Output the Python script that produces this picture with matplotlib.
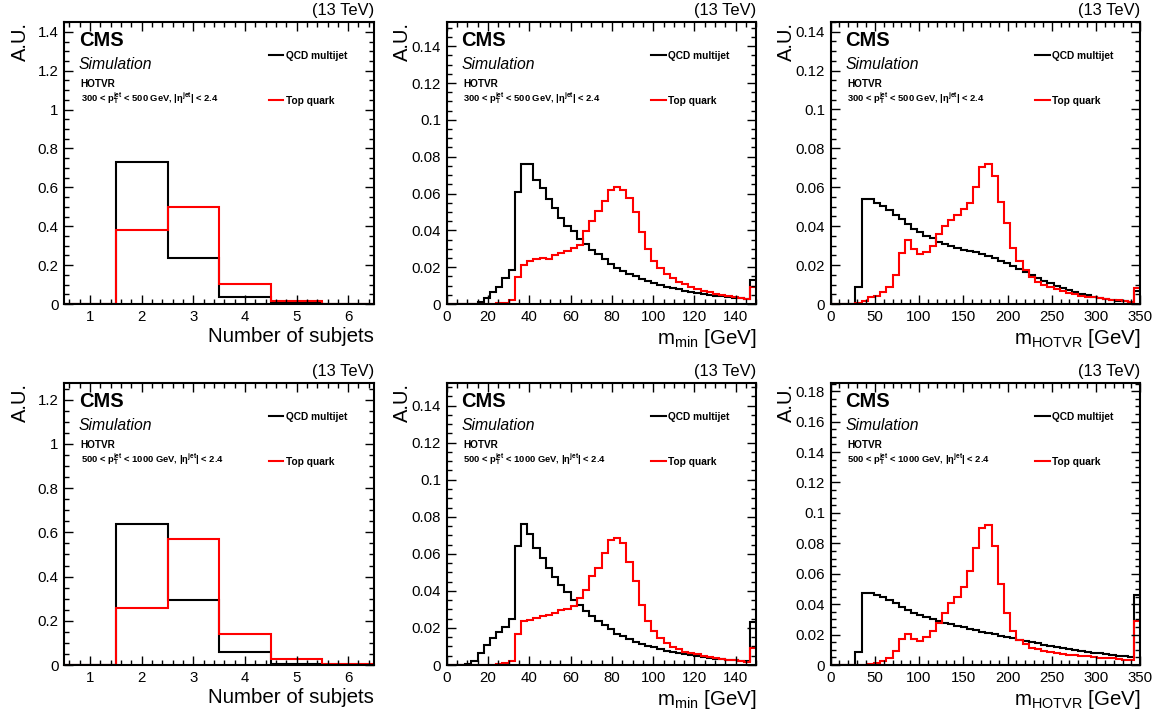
import numpy as np
import matplotlib
matplotlib.use('Agg')
import matplotlib.pyplot as plt
from matplotlib.lines import Line2D
from matplotlib.ticker import MultipleLocator, FuncFormatter

plt.rcParams['font.family'] = ['Liberation Sans', 'DejaVu Sans']
plt.rcParams['mathtext.fontset'] = 'custom'
plt.rcParams['mathtext.rm'] = 'Liberation Sans'
plt.rcParams['mathtext.it'] = 'Liberation Sans:italic'
plt.rcParams['mathtext.bf'] = 'Liberation Sans:bold'

# ---- data (normalised histograms) ----
nsub_edges = np.arange(0.5, 7.0, 1.0)
mmin_edges = np.linspace(0, 150, 51)      # 3 GeV bins, last bin incl. overflow
mhotvr_edges = np.linspace(0, 350, 51)    # 7 GeV bins, last bin incl. overflow

# 300 < pT < 500 GeV
nsub_qcd_300 = [0.0, 0.73, 0.235, 0.035, 0.003, 0.0]
nsub_top_300 = [0.0, 0.38, 0.50, 0.105, 0.015, 0.002]

mmin_qcd_300 = [0, 0, 0, 0, 0, 0.001, 0.003, 0.0065, 0.0095, 0.014,
                0.0185, 0.061, 0.076, 0.076, 0.0675, 0.063, 0.057, 0.052, 0.0465, 0.0425,
                0.0395, 0.0355, 0.0325, 0.0295, 0.027, 0.0245, 0.022, 0.0195, 0.0178, 0.0163,
                0.015, 0.0137, 0.0125, 0.0115, 0.0105, 0.0095, 0.0087, 0.008, 0.0073, 0.0067,
                0.006, 0.0055, 0.005, 0.0046, 0.0042, 0.0038, 0.0034, 0.003, 0.0027, 0.013]
mmin_top_300 = [0, 0, 0, 0, 0, 0, 0, 0, 0.0003, 0.0008,
                0.002, 0.0145, 0.021, 0.0235, 0.0245, 0.025, 0.0245, 0.0265, 0.0275, 0.029,
                0.0305, 0.032, 0.0395, 0.045, 0.0505, 0.056, 0.062, 0.0635, 0.062, 0.0575,
                0.050, 0.039, 0.030, 0.0235, 0.0195, 0.0163, 0.014, 0.0122, 0.0108, 0.0095,
                0.0083, 0.0073, 0.0064, 0.0056, 0.0049, 0.0043, 0.0038, 0.0032, 0.0026, 0.0095]

mhotvr_qcd_300 = [0, 0, 0, 0, 0.009, 0.0538, 0.0538, 0.052, 0.0504, 0.0485,
                  0.046, 0.0438, 0.041, 0.0388, 0.037, 0.035, 0.0337, 0.0321, 0.0308, 0.0297,
                  0.0287, 0.028, 0.0273, 0.0265, 0.0256, 0.0248, 0.0236, 0.0222, 0.0209, 0.0195,
                  0.0181, 0.0164, 0.0149, 0.0133, 0.012, 0.0106, 0.0092, 0.0082, 0.0072, 0.0062,
                  0.0053, 0.0044, 0.0038, 0.0031, 0.0026, 0.0021, 0.0017, 0.0014, 0.001, 0.0065]
mhotvr_top_300 = [0, 0, 0, 0, 0.0005, 0.0015, 0.0034, 0.0043, 0.006, 0.0085,
                  0.0147, 0.026, 0.033, 0.0285, 0.0256, 0.0265, 0.030, 0.036, 0.040, 0.0434,
                  0.0455, 0.0487, 0.052, 0.060, 0.0704, 0.0721, 0.066, 0.0526, 0.0414, 0.029,
                  0.0219, 0.0174, 0.014, 0.0113, 0.0099, 0.0085, 0.0075, 0.0065, 0.0058, 0.005,
                  0.0043, 0.0038, 0.0034, 0.0029, 0.0026, 0.0022, 0.0019, 0.0017, 0.0012, 0.008]

# 500 < pT < 1000 GeV
nsub_qcd_500 = [0.0, 0.64, 0.295, 0.058, 0.006, 0.001]
nsub_top_500 = [0.0, 0.257, 0.57, 0.142, 0.027, 0.004]

mmin_qcd_500 = [0, 0, 0, 0.0003, 0.002, 0.0066, 0.0106, 0.0148, 0.018, 0.0207,
                0.0247, 0.0645, 0.0759, 0.0705, 0.0632, 0.0578, 0.0524, 0.0477, 0.0434, 0.0392,
                0.035, 0.0322, 0.0289, 0.0266, 0.024, 0.0217, 0.0192, 0.017, 0.0155, 0.0139,
                0.0126, 0.0116, 0.0105, 0.0096, 0.0087, 0.0078, 0.007, 0.0063, 0.0057, 0.0052,
                0.0047, 0.0043, 0.0039, 0.0035, 0.0032, 0.0028, 0.0025, 0.0022, 0.0019, 0.023]
mmin_top_500 = [0, 0, 0, 0, 0, 0, 0, 0, 0.0005, 0.001,
                0.002, 0.0166, 0.0236, 0.0245, 0.0255, 0.0265, 0.0272, 0.028, 0.0295, 0.0305,
                0.032, 0.036, 0.0407, 0.0479, 0.0524, 0.0602, 0.0674, 0.0687, 0.066, 0.0556,
                0.0452, 0.0322, 0.024, 0.0186, 0.0145, 0.0117, 0.0096, 0.0085, 0.0072, 0.0065,
                0.0058, 0.0051, 0.0045, 0.004, 0.0034, 0.0029, 0.0025, 0.0022, 0.0014, 0.009]

mhotvr_qcd_500 = [0, 0, 0, 0, 0.0085, 0.0472, 0.0472, 0.0462, 0.0445, 0.0425,
                  0.0405, 0.0383, 0.0362, 0.0345, 0.033, 0.0316, 0.0302, 0.029, 0.0279, 0.0268,
                  0.0258, 0.0248, 0.0238, 0.0229, 0.022, 0.0211, 0.0202, 0.0193, 0.0184, 0.0175,
                  0.0166, 0.0158, 0.015, 0.0142, 0.0134, 0.0127, 0.012, 0.0113, 0.0106, 0.01,
                  0.0094, 0.0088, 0.0082, 0.0077, 0.0072, 0.0067, 0.0062, 0.0058, 0.0053, 0.046]
mhotvr_top_500 = [0, 0, 0, 0, 0, 0.0003, 0.0008, 0.0015, 0.0028, 0.0048,
                  0.0092, 0.0172, 0.0201, 0.0172, 0.016, 0.0184, 0.0223, 0.0277, 0.0343, 0.0405,
                  0.0448, 0.0511, 0.0617, 0.077, 0.090, 0.092, 0.0785, 0.0533, 0.0343, 0.0223,
                  0.0162, 0.0136, 0.0115, 0.0102, 0.0092, 0.0084, 0.0077, 0.0071, 0.0068, 0.0063,
                  0.006, 0.0056, 0.0053, 0.0049, 0.0046, 0.0043, 0.004, 0.0036, 0.0033, 0.029]

pt_labels = [r'300 < p$_{\mathbf{T}}^{\mathbf{jet}}$ < 500 GeV, |η$^{\mathbf{jet}}$| < 2.4',
             r'500 < p$_{\mathbf{T}}^{\mathbf{jet}}$ < 1000 GeV, |η$^{\mathbf{jet}}$| < 2.4']

fig = plt.figure(figsize=(11.6, 7.13), dpi=100)

col_left = [0.0554, 0.3851, 0.716]
row_bottom = [0.5736, 0.0673]
ax_w, ax_h = 0.2670, 0.3960


def fmt(v, pos):
    return '%g' % round(v, 6)


def draw_panel(ax, edges, qcd, top, xlabel, ymax, xmaj, xmin, ymaj, ymin, pt_text):
    ax.stairs(qcd, edges, baseline=None, color='black', lw=1.5)
    ax.stairs(top, edges, baseline=None, color='#ff0000', lw=1.5)
    ax.set_xlim(edges[0], edges[-1])
    ax.set_ylim(0, ymax)

    ax.xaxis.set_major_locator(MultipleLocator(xmaj))
    ax.xaxis.set_minor_locator(MultipleLocator(xmin))
    ax.yaxis.set_major_locator(MultipleLocator(ymaj))
    ax.yaxis.set_minor_locator(MultipleLocator(ymin))
    ax.xaxis.set_major_formatter(FuncFormatter(fmt))
    ax.yaxis.set_major_formatter(FuncFormatter(fmt))
    ax.tick_params(which='both', direction='in', top=True, right=True,
                   labelsize=10.8, pad=4, width=1.0)
    ax.tick_params(which='major', length=6.5)
    ax.tick_params(which='minor', length=3.5)
    for s in ax.spines.values():
        s.set_linewidth(1.5)

    ax.set_xlabel(xlabel, fontsize=14.8, loc='right')
    ax.xaxis.set_label_coords(1.0, -0.080)
    ax.set_ylabel('A.U.', fontsize=14.5, loc='top')
    ax.yaxis.set_label_coords(-0.112, 1.0)

    tr = ax.transAxes
    ax.text(1.0, 1.022, '(13 TeV)', transform=tr, ha='right', va='baseline', fontsize=11.9)
    ax.text(0.047, 0.914, 'CMS', transform=tr, fontsize=14.5, fontweight='bold', va='baseline')
    ax.text(0.047, 0.833, 'Simulation', transform=tr, fontsize=11.3, style='italic', va='baseline')
    ax.text(0.053, 0.769, 'HOTVR', transform=tr, fontsize=7.2, fontweight='bold', va='baseline')
    ax.text(0.053, 0.716, pt_text, transform=tr, fontsize=6.75, fontweight='bold', va='baseline')

    handles = [Line2D([], [], color='black', lw=1.5), Line2D([], [], color='#ff0000', lw=1.5)]
    ax.legend(handles, ['QCD multijet', 'Top quark'], loc='upper left',
              bbox_to_anchor=(0.66, 0.897), frameon=False,
              prop={'weight': 'bold', 'size': 7.3}, handlelength=1.45,
              handletextpad=0.25, labelspacing=3.45, borderpad=0, borderaxespad=0)


panels = [
    [(nsub_edges, nsub_qcd_300, nsub_top_300, 'Number of subjets', 1.452, 1, 0.2, 0.2, 0.05),
     (mmin_edges, mmin_qcd_300, mmin_top_300, r'm$_{\mathrm{min}}$ [GeV]', 0.1533, 20, 5, 0.02, 0.005),
     (mhotvr_edges, mhotvr_qcd_300, mhotvr_top_300, r'm$_{\mathrm{HOTVR}}$ [GeV]', 0.1451, 50, 10, 0.02, 0.005)],
    [(nsub_edges, nsub_qcd_500, nsub_top_500, 'Number of subjets', 1.277, 1, 0.2, 0.2, 0.05),
     (mmin_edges, mmin_qcd_500, mmin_top_500, r'm$_{\mathrm{min}}$ [GeV]', 0.1524, 20, 5, 0.02, 0.005),
     (mhotvr_edges, mhotvr_qcd_500, mhotvr_top_500, r'm$_{\mathrm{HOTVR}}$ [GeV]', 0.1856, 50, 10, 0.02, 0.005)],
]

for r, row in enumerate(panels):
    for c, p in enumerate(row):
        ax = fig.add_axes([col_left[c], row_bottom[r], ax_w, ax_h])
        draw_panel(ax, *p, pt_labels[r])

fig.savefig('out.png', dpi=100)
